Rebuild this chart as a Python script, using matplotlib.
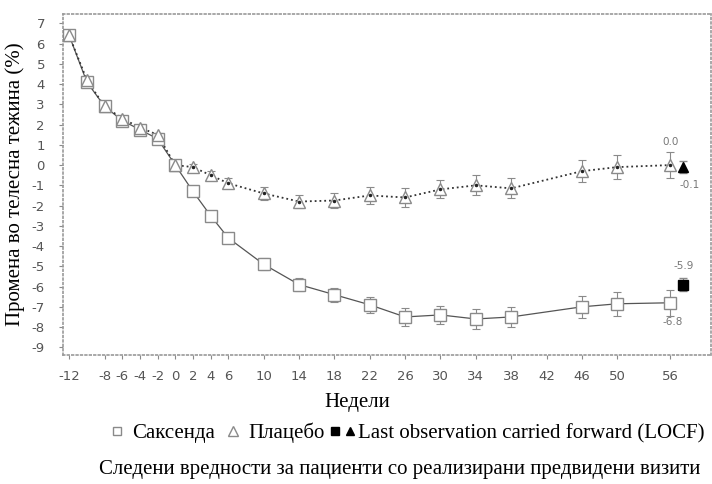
from matplotlib import pyplot as plt
from matplotlib.legend_handler import HandlerTuple
from matplotlib.lines import Line2D
#
# data
# -----------------------
#
weeks = [-12, -10, -8, -6, -4, -2, 0, 2, 4, 6, 10, 14, 18, 22, 26, 30, 34, 38, 46, 50, 56]
saxenda = [6.4, 4.1, 2.9, 2.2, 1.75, 1.3, 0.0, -1.3, -2.5, -3.6, -4.9, -5.9, -6.4,
           -6.9, -7.5, -7.4, -7.6, -7.5, -7.0, -6.85, -6.8]
saxenda_err = [0.1, 0.1, 0.1, 0.1, 0.1, 0.1, 0.0, 0.15, 0.2, 0.25, 0.3, 0.3, 0.35,
               0.4, 0.45, 0.45, 0.5, 0.5, 0.55, 0.6, 0.65]
placebo = [6.4, 4.2, 2.9, 2.3, 1.85, 1.5, 0.0, -0.1, -0.5, -0.9, -1.4, -1.8, -1.75,
           -1.5, -1.6, -1.2, -1.0, -1.15, -0.3, -0.1, 0.0]
placebo_err = [0.1, 0.1, 0.1, 0.1, 0.1, 0.1, 0.0, 0.15, 0.2, 0.25, 0.3, 0.3, 0.35,
               0.4, 0.45, 0.45, 0.5, 0.5, 0.55, 0.6, 0.65]
locf_week = 57.4
locf_saxenda = -5.9
locf_placebo = -0.1
locf_err = 0.3
xtick_vals = [-12, -8, -6, -4, -2, 0, 2, 4, 6, 10, 14, 18, 22, 26, 30, 34, 38, 42, 46, 50, 56]
ytick_vals = list(range(-9, 8))

plt.rcParams['axes.unicode_minus'] = False
serif = 'Liberation Serif'
gray = '#8a8a8a'

fig = plt.figure(figsize=(7.12, 4.84), dpi=100)
ax = fig.add_axes([0.0885, 0.2665, 0.910, 0.7045])
#
# the two series with error bars
# ------------------------------
#
ax.errorbar(weeks, saxenda, yerr=saxenda_err, fmt='none', ecolor=gray,
            elinewidth=0.8, capsize=3, capthick=0.8, zorder=2)
ax.errorbar(weeks, placebo, yerr=placebo_err, fmt='none', ecolor=gray,
            elinewidth=0.8, capsize=3, capthick=0.8, zorder=2)
ax.plot(weeks, saxenda, '-', color='#555555', lw=0.9, zorder=3)
ax.plot(weeks, placebo, ':', color='#333333', lw=1.3, zorder=3)
ax.plot(weeks, saxenda, 's', ms=8, mfc='white', mec=gray, mew=1.0, zorder=4)
ax.plot(weeks, placebo, '^', ms=8, mfc='white', mec=gray, mew=1.0, zorder=5)
ax.plot(weeks[7:], placebo[7:], '.', ms=3, color='#222222', zorder=6)
#
# last observation carried forward
# --------------------------------
#
ax.errorbar([locf_week], [locf_saxenda], yerr=locf_err, fmt='s', ms=7, color='black',
            ecolor=gray, elinewidth=0.8, capsize=3, zorder=6)
ax.errorbar([locf_week], [locf_placebo], yerr=locf_err, fmt='^', ms=7, color='black',
            ecolor=gray, elinewidth=0.8, capsize=3, zorder=6)
lab = dict(fontsize=7.5, color='#777777', family='DejaVu Sans')
ax.text(56, placebo[-1] + 1.0, '0.0', ha='center', **lab)
ax.text(locf_week - 0.3, locf_placebo - 1.05, '-0.1', ha='left', **lab)
ax.text(locf_week - 1.0, locf_saxenda + 0.75, '-5.9', ha='left', **lab)
ax.text(56.3, saxenda[-1] - 1.1, '-6.8', ha='center', **lab)
#
# axes styling
# ------------
#
ax.set_xlim(-12.7, 60.6)
ax.set_ylim(-9.38, 7.46)
ax.set_xticks(xtick_vals)
ax.set_yticks(ytick_vals)
ax.tick_params(labelsize=9.5, labelcolor='#555555', color=gray, length=3, width=0.8)
ax.tick_params(axis='y', pad=10)
ax.tick_params(axis='x', pad=8)
for s in ax.spines.values():
    s.set_linestyle(':')
    s.set_color('#999999')
    s.set_linewidth(1.2)
ax.set_ylabel('Промена во телесна тежина (%)', family=serif, fontsize=15, labelpad=5)
fig.text(0.5014, 0.169, 'Недели', family=serif, fontsize=15, ha='center', va='center')
#
# legend and footnote
# -------------------
#
h1 = Line2D([], [], marker='s', ls='none', ms=6, mfc='white', mec=gray)
h2 = Line2D([], [], marker='^', ls='none', ms=7, mfc='white', mec=gray)
h3 = Line2D([], [], marker='s', ls='none', ms=6, color='black')
h4 = Line2D([], [], marker='^', ls='none', ms=6, color='black')
fig.legend([h1, h2, (h3, h4)], ['Саксенда', 'Плацебо', 'Last observation carried forward (LOCF)'],
           handler_map={tuple: HandlerTuple(ndivide=None, pad=0.6)},
           loc='center', bbox_to_anchor=(0.570, 0.105), ncol=3, frameon=False,
           prop={'family': serif, 'size': 15}, handlelength=0.9, handletextpad=0.3,
           columnspacing=0.4, borderaxespad=0)
fig.text(0.562, 0.029, 'Следени вредности за пациенти со реализирани предвидени визити',
         family=serif, fontsize=15, ha='center', va='center')

fig.savefig('out.png', dpi=100)
